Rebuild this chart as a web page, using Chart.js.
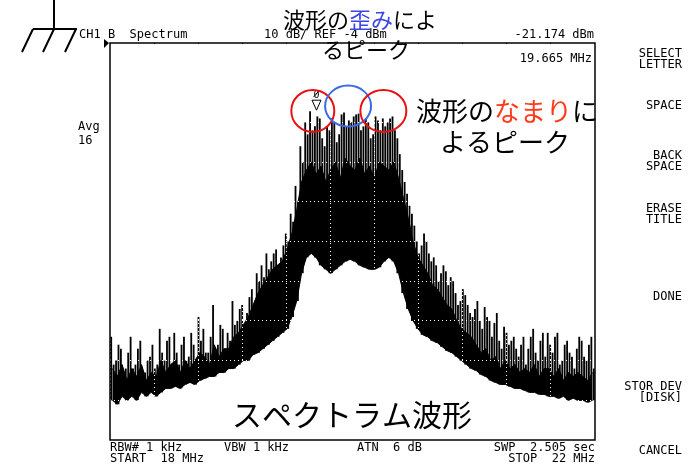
<!DOCTYPE html>
<html>
<head>
<meta charset="utf-8">
<script src="https://cdn.jsdelivr.net/npm/chart.js@4/dist/chart.umd.min.js"></script>
<style>
  html, body { margin: 0; padding: 0; background: #fff; }
  #wrap { position: relative; width: 698px; height: 464px; }
</style>
</head>
<body>
<div id="wrap"><canvas id="spec" width="698" height="464"></canvas></div>
<script>
// sweep 18–22 MHz, 10 dB/div from REF -4 dBm, 100 display bins
const startMHz = 18;
const stopMHz = 22;
const refDbm = -4;
const dbPerDiv = 10;
const markerMHz = 19.665;

// tallest line in each bin (dBm)
const peakDbm = [
  -78, -84, -81, -86, -78, -85, -79, -87, -83, -86,
  -76, -84, -78, -77, -85, -78, -83, -80, -73, -76,
  -82, -70, -80, -76, -77, -69, -74, -70, -72, -66,
  -62, -60, -57, -59, -56, -58, -52, -47, -40, -30,
  -24, -21.174, -25, -23, -30, -26, -24, -27, -21.5, -23.5,
  -22.5, -21.8, -25, -24, -27, -23.5, -23, -24, -22.5, -28,
  -36, -42, -47, -54, -55, -54, -59, -60, -62, -61.5,
  -63, -67, -69, -67.5, -72, -71, -74, -70.5, -74, -74.5,
  -79, -75.5, -80, -78, -83, -78, -81, -76, -84, -77,
  -77, -82, -77, -84, -79, -83, -81, -79, -84, -78,
];

// second line in each bin (dBm)
const peak2Dbm = [
  -85, -80, -88, -82, -86, -81, -88, -84, -80, -85,
  -82, -79, -86, -82, -80, -84, -77, -84, -79, -82,
  -78, -81, -75, -82, -79, -75, -71, -76, -68, -70,
  -64, -63, -61, -57, -60, -55, -54, -49, -44, -34,
  -27, -26, -22.5, -28, -25, -23, -29, -22, -25, -24,
  -22, -26, -23, -28, -22.5, -26, -25, -23, -26, -32,
  -39, -45, -50, -57, -52, -57, -58, -64, -60, -65,
  -64, -70, -66, -70, -73, -69, -76, -73, -78, -72,
  -81, -77, -79, -81, -80, -85, -78, -82, -79, -83,
  -80, -78, -85, -80, -82, -86, -78, -83, -80, -86,
];

// top of the dense part of the trace (dBm)
const bodyDbm = [
  -86, -88, -85, -89, -86, -88, -85, -89, -87, -88,
  -84, -87, -85, -84, -87, -84, -86, -84, -82, -83,
  -85, -80, -83, -81, -81, -78, -77, -75, -73, -70,
  -67, -65, -63, -61, -60, -59, -56, -52, -46, -39,
  -36, -34, -37, -35, -39, -36, -34, -38, -33, -35,
  -36, -33, -37, -35, -38, -34, -35, -36, -34, -38,
  -43, -48, -54, -58, -60, -62, -65, -66, -68, -70,
  -71, -74, -76, -77, -78, -80, -82, -81, -84, -83,
  -86, -84, -86, -85, -87, -86, -87, -85, -88, -86,
  -86, -88, -86, -89, -87, -88, -87, -88, -89, -87,
];

// bottom of the trace (dBm)
const floorDbm = [
  -94, -95, -93, -94, -93, -94, -92, -93, -92, -93,
  -92, -91, -91, -90.5, -91, -90, -89.5, -90, -89, -88.5,
  -88, -88, -87, -87, -86, -86, -85, -84, -84, -82.5,
  -82, -81, -80, -79, -78, -77, -76, -73, -69, -62,
  -58, -57, -58, -60, -61, -62, -61, -60, -59, -58.5,
  -59, -60, -60.5, -61, -61, -60.5, -59, -58, -59, -62,
  -67, -71, -74, -76, -77.5, -78, -79, -79.5, -80.5, -81.5,
  -82, -83, -84, -85, -86, -86.5, -87.5, -88, -89, -89.5,
  -90, -90, -90.5, -91, -91, -91.5, -92, -92, -92.5, -92.5,
  -93, -93, -93.5, -93, -94, -93.5, -94, -94, -94.5, -94,
];

const binMHz = peakDbm.map((_, i) => (startMHz + (i + 0.5) * (stopMHz - startMHz) / peakDbm.length).toFixed(3));

const MONO = '"DejaVu Sans Mono", monospace';
const JP = '"Noto Sans CJK JP", sans-serif';

const softkeys = [
  { lines: ['SELECT', 'LETTER'], y: 57 },
  { lines: ['SPACE'], y: 109 },
  { lines: ['BACK', 'SPACE'], y: 159 },
  { lines: ['ERASE', 'TITLE'], y: 212 },
  { lines: ['DONE'], y: 300 },
  { lines: ['STOR DEV', '[DISK]'], y: 390 },
  { lines: ['CANCEL'], y: 454 },
];

function mono(ctx, text, x, y, align = 'left', size = 12) {
  ctx.font = `${size}px ${MONO}`;
  ctx.textAlign = align;
  ctx.textBaseline = 'alphabetic';
  ctx.fillStyle = '#000';
  ctx.fillText(text, x, y);
}

// draws coloured runs of Japanese text one after another
function runs(ctx, parts, x, y, size) {
  ctx.font = `${size}px ${JP}`;
  ctx.textAlign = 'left';
  ctx.textBaseline = 'middle';
  for (const [t, c] of parts) {
    ctx.fillStyle = c;
    ctx.fillText(t, x, y);
    x += ctx.measureText(t).width;
  }
}

const overlay = {
  id: 'overlay',
  // grid layer (z > 0) is painted right after this, inverted over the trace
  afterDatasetsDraw(chart) { chart.ctx.globalCompositeOperation = 'difference'; },
  afterDraw(chart) {
    const { ctx, chartArea: a, scales: { y, xg } } = chart;
    ctx.save();
    ctx.globalCompositeOperation = 'source-over';

    // frame
    ctx.strokeStyle = '#000';
    ctx.lineWidth = 1.5;
    ctx.strokeRect(a.left, a.top, a.right - a.left, a.bottom - a.top);

    // ref level arrow
    ctx.fillStyle = '#000';
    ctx.beginPath();
    ctx.moveTo(a.left - 6, a.top - 4); ctx.lineTo(a.left - 1, a.top); ctx.lineTo(a.left - 6, a.top + 5);
    ctx.closePath(); ctx.fill();

    // ground symbol
    ctx.lineWidth = 2;
    ctx.beginPath();
    ctx.moveTo(54, 0); ctx.lineTo(54, 29);
    ctx.moveTo(33, 29); ctx.lineTo(77, 29);
    ctx.moveTo(33, 29); ctx.lineTo(22, 52);
    ctx.moveTo(54, 29); ctx.lineTo(43, 52);
    ctx.moveTo(76, 29); ctx.lineTo(65, 52);
    ctx.stroke();

    // peak marker
    const mi = peakDbm.indexOf(Math.max(...peakDbm));
    const mx = Math.round(xg.getPixelForValue(markerMHz)) + 0.5;
    const my = y.getPixelForValue(peakDbm[mi]);
    ctx.lineWidth = 1;
    ctx.beginPath();
    ctx.moveTo(mx - 4.5, my - 11); ctx.lineTo(mx + 4.5, my - 11); ctx.lineTo(mx, my - 1);
    ctx.closePath(); ctx.stroke();
    mono(ctx, '0', mx, my - 13, 'center', 10);
    ctx.beginPath(); ctx.moveTo(mx - 3, my - 14); ctx.lineTo(mx + 3, my - 21); ctx.stroke();

    // header / footer readouts
    mono(ctx, 'CH1 B  Spectrum', 79, 38);
    mono(ctx, `${dbPerDiv} dB/ REF ${refDbm} dBm`, 264, 38);
    mono(ctx, `${peakDbm[mi].toFixed(3)} dBm`, 594, 38, 'right');
    mono(ctx, `${markerMHz.toFixed(3)} MHz`, 592, 62, 'right');
    mono(ctx, 'Avg', 78, 130);
    mono(ctx, '16', 78, 144);
    mono(ctx, 'RBW# 1 kHz', 110, 451);
    mono(ctx, 'VBW 1 kHz', 224, 451);
    mono(ctx, 'ATN  6 dB', 357, 451);
    mono(ctx, 'SWP  2.505 sec', 595, 451, 'right');
    mono(ctx, `START  ${startMHz} MHz`, 110, 462);
    mono(ctx, `STOP  ${stopMHz} MHz`, 595, 462, 'right');

    for (const k of softkeys) k.lines.forEach((t, j) => mono(ctx, t, 682, k.y + j * 10.5, 'right'));

    // highlighted peaks
    const rings = [
      { f: 19.64, db: -21.1, rx: 21.5, ry: 21, c: '#e81010' },
      { f: 19.96, db: -19.9, rx: 23, ry: 20.5, c: '#3a6ae8' },
      { f: 20.28, db: -21.1, rx: 23, ry: 21, c: '#e81010' },
    ];
    ctx.lineWidth = 2;
    for (const r of rings) {
      ctx.strokeStyle = r.c;
      ctx.beginPath();
      ctx.ellipse(xg.getPixelForValue(r.f), y.getPixelForValue(r.db), r.rx, r.ry, 0, 0, Math.PI * 2);
      ctx.stroke();
    }

    // notes
    runs(ctx, [['波形の', '#000'], ['歪み', '#3c46e6'], ['によ', '#000']], 283, 20, 22);
    runs(ctx, [['るピーク', '#000']], 322, 50, 22);
    runs(ctx, [['波形の', '#000'], ['なまり', '#ff3b1c'], ['に', '#000']], 416, 111, 26);
    runs(ctx, [['よるピーク', '#000']], 440, 142, 26);
    runs(ctx, [['スペクトラム波形', '#000']], 232, 415, 30);

    ctx.restore();
  },
};

const gridOpts = { color: '#fff', lineWidth: 1, drawTicks: false, z: 1 };
const borderOpts = { display: false, dash: [1, 3] };
const lineBase = { type: 'line', borderColor: '#000', borderWidth: 1, pointRadius: 0, tension: 0 };
const barBase = { backgroundColor: '#000', borderWidth: 0, barPercentage: 0.75, categoryPercentage: 1 };

new Chart(document.getElementById('spec'), {
  type: 'bar',
  data: {
    labels: binMHz,
    datasets: [
      { ...barBase, label: 'line A', data: peakDbm.map((v, i) => [floorDbm[i], v]) },
      { ...barBase, label: 'line B', data: peak2Dbm.map((v, i) => [floorDbm[i], v]) },
      { ...lineBase, label: 'body', data: bodyDbm, fill: { target: '+1' }, backgroundColor: '#000' },
      { ...lineBase, label: 'floor', data: floorDbm, fill: false },
    ],
  },
  options: {
    responsive: false,
    animation: false,
    events: [],
    layout: { padding: { left: 110, top: 43, right: 103, bottom: 24 } },
    plugins: { legend: { display: false }, tooltip: { enabled: false } },
    scales: {
      x: { display: false },
      xg: { type: 'linear', position: 'bottom', min: startMHz, max: stopMHz,
        ticks: { display: false, stepSize: (stopMHz - startMHz) / 10 }, grid: gridOpts, border: borderOpts },
      y: { min: refDbm - 10 * dbPerDiv, max: refDbm,
        ticks: { display: false, stepSize: dbPerDiv }, grid: gridOpts, border: borderOpts },
    },
  },
  plugins: [overlay],
});
</script>
</body>
</html>
